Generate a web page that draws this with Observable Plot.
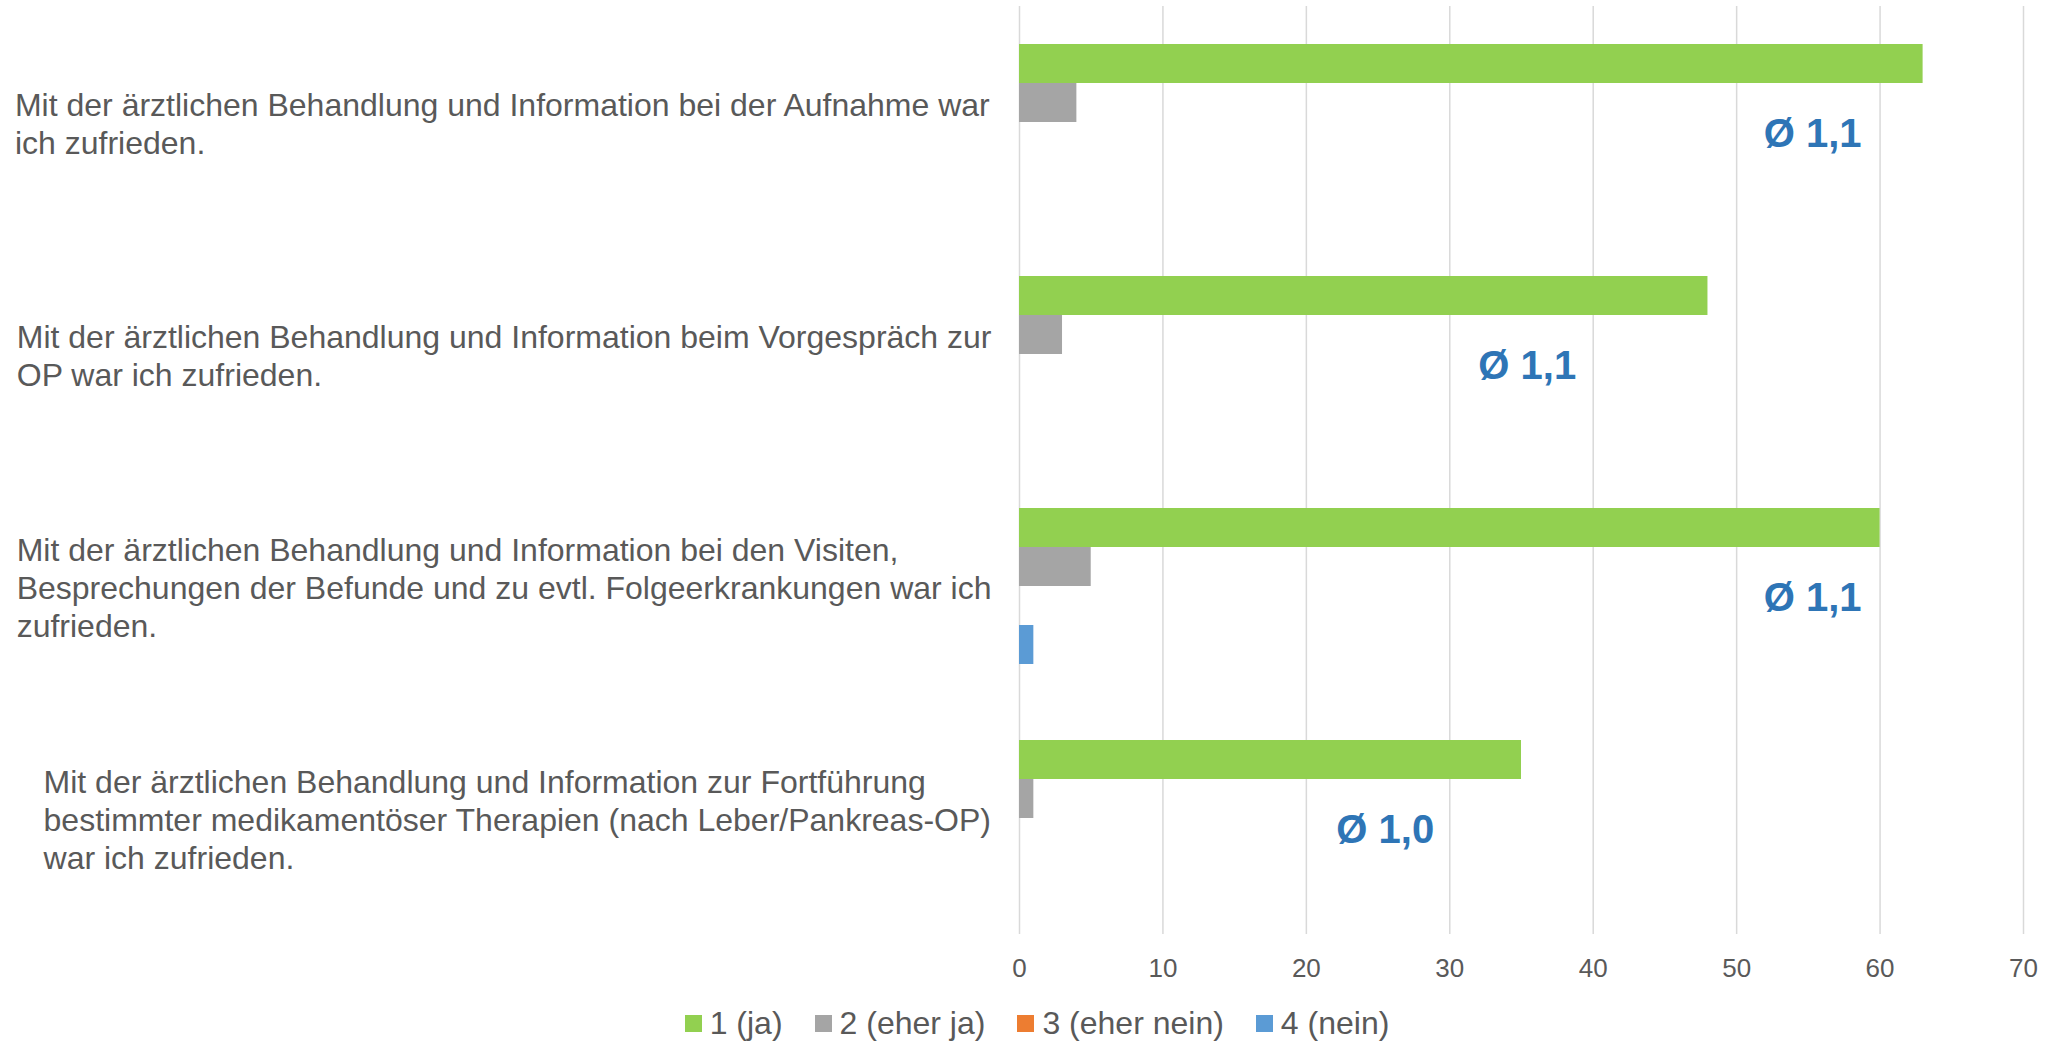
<!DOCTYPE html>
<html>
<head>
<meta charset="utf-8">
<script src="https://cdn.jsdelivr.net/npm/d3@7"></script>
<script src="https://cdn.jsdelivr.net/npm/@observablehq/plot@0.6"></script>
<style>
  html, body { margin: 0; padding: 0; background: #ffffff; }
  body { font-family: "Liberation Sans", Arial, sans-serif; width: 2056px; }
  #legend { display: flex; justify-content: center; align-items: center; height: 56px; font-size: 32px; color: #595959; padding-left: 18px; }
  .item { display: flex; align-items: center; margin: 0 16px; }
  .sw { width: 17px; height: 17px; margin-right: 8px; }
</style>
</head>
<body>
<div id="chart"></div>
<script>
// ---- data ----
const questions = [
  "Mit der ärztlichen Behandlung und Information bei der Aufnahme war\nich zufrieden.",
  "Mit der ärztlichen Behandlung und Information beim Vorgespräch zur\nOP war ich zufrieden.",
  "Mit der ärztlichen Behandlung und Information bei den Visiten,\nBesprechungen der Befunde und zu evtl. Folgeerkrankungen war ich\nzufrieden.",
  "Mit der ärztlichen Behandlung und Information zur Fortführung\nbestimmter medikamentöser Therapien (nach Leber/Pankreas-OP)\nwar ich zufrieden."
];
const seriesNames = ["1 (ja)", "2 (eher ja)", "3 (eher nein)", "4 (nein)"];
const seriesColors = ["#92D050", "#A5A5A5", "#ED7D31", "#5B9BD5"];
const valuesJa = [63, 48, 60, 35];
const valuesEherJa = [4, 3, 5, 1];
const valuesEherNein = [0, 0, 0, 0];
const valuesNein = [0, 0, 1, 0];
const averageLabels = ["Ø 1,1", "Ø 1,1", "Ø 1,1", "Ø 1,0"];
const averageLabelX = [55.3, 35.4, 55.3, 25.5];
const xTicks = [0, 10, 20, 30, 40, 50, 60, 70];

// ---- build tables ----
const seriesValues = [valuesJa, valuesEherJa, valuesEherNein, valuesNein];
const rows = [];
questions.forEach((q, i) => {
  seriesNames.forEach((s, j) => rows.push({question: q, series: s, value: seriesValues[j][i]}));
});
const annotations = questions.map((q, i) => ({question: q, label: averageLabels[i], x: averageLabelX[i]}));

const FONT = "Liberation Sans, Arial, sans-serif";
const labelSize = 32;
const textGrey = "#595959";
const ctx = document.createElement("canvas").getContext("2d");
ctx.font = `${labelSize}px "Liberation Sans", Arial, sans-serif`;
const blockWidths = questions.map(q => d3.max(q.split("\n"), l => ctx.measureText(l).width));

const W = 2056, H = 995;
const marginLeft = 1019, gap = 28;

const labelMarks = questions.map((q, i) =>
  Plot.text([q], {
    fy: d => d, text: d => d,
    frameAnchor: "left", textAnchor: "start", lineAnchor: "middle",
    dx: -(gap + blockWidths[i]),
    fontSize: labelSize, lineHeight: 38 / labelSize, fill: textGrey
  })
);

const chart = Plot.plot({
  width: W, height: H,
  marginLeft, marginRight: 33, marginTop: 6, marginBottom: H - 934,
  style: {fontFamily: FONT, background: "#ffffff", color: textGrey},
  x: {domain: [0, 70], axis: null},
  y: {domain: seriesNames, paddingInner: 0, paddingOuter: 0.95, axis: null},
  fy: {domain: questions, padding: 0, axis: null},
  color: {domain: seriesNames, range: seriesColors},
  marks: [
    Plot.gridX(xTicks, {stroke: "#D9D9D9", strokeOpacity: 1, strokeWidth: 1.5}),
    Plot.barX(rows, {fy: "question", y: "series", x: "value", fill: "series"}),
    Plot.axisX(xTicks, {facetAnchor: "bottom", tickSize: 0, tickPadding: 24, fontSize: 26, color: textGrey, tickFormat: d => String(d)}),
    ...labelMarks,
    Plot.text(annotations, {fy: "question", x: "x", text: "label", fill: "#2E75B6", fontWeight: "bold", fontSize: 40, dy: 12, textAnchor: "middle", lineAnchor: "middle"})
  ]
});
document.getElementById("chart").appendChild(chart);

// ---- legend ----
const legend = document.createElement("div");
legend.id = "legend";
seriesNames.forEach((s, j) => {
  const item = document.createElement("div");
  item.className = "item";
  const sw = document.createElement("span");
  sw.className = "sw";
  sw.style.background = seriesColors[j];
  const t = document.createElement("span");
  t.textContent = s;
  item.appendChild(sw);
  item.appendChild(t);
  legend.appendChild(item);
});
document.getElementById("chart").appendChild(legend);
</script>
</body>
</html>
